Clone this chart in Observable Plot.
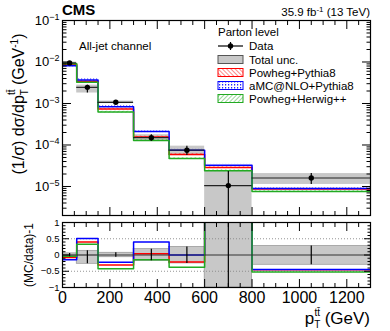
<!DOCTYPE html>
<html><head><meta charset="utf-8">
<script src="https://cdn.jsdelivr.net/npm/d3@7"></script>
<script src="https://cdn.jsdelivr.net/npm/@observablehq/plot@0.6"></script>
<style>
body{margin:0;background:#fff;font-family:"Liberation Sans",Arial,sans-serif;}
#wrap{position:relative;width:390px;height:331px;overflow:hidden;background:#fff;}
#wrap > svg{position:absolute;left:0;}
</style></head><body>
<svg width="0" height="0" style="position:absolute">
<defs>
<pattern id="hatchRed" patternUnits="userSpaceOnUse" width="3" height="3" patternTransform="rotate(-45)"><line x1="0" y1="0" x2="0" y2="3" stroke="#ff0000" stroke-width="0.9"/></pattern>
<pattern id="hatchGreen" patternUnits="userSpaceOnUse" width="3" height="3" patternTransform="rotate(45)"><line x1="0" y1="0" x2="0" y2="3" stroke="#22aa22" stroke-width="0.9"/></pattern>
<pattern id="hatchBlue" patternUnits="userSpaceOnUse" width="3" height="3"><rect x="0" y="0" width="1.2" height="1.5" fill="#2222ff"/></pattern>
</defs>
</svg>
<div id="wrap"></div>
<script>
// ---- data ----
const binEdges = [0, 60, 150, 300, 450, 600, 800, 1300];
const dataX = [30, 105, 225, 375, 525, 700, 1050];
const dataY = [9.5e-3, 2.45e-3, 1.07e-3, 1.5e-4, 7.5e-5, 1.05e-5, 1.6e-5];
const totUncLow = [0.95, 0.73, 0.93, 0.82, 0.74, 0.0, 0.70];
const totUncHigh = [1.05, 1.13, 1.07, 1.18, 1.25, 2.2, 1.28];
const powhegPythia8 = [8.8e-3, 3.43e-3, 7.4e-4, 1.56e-4, 5.9e-5, 2.85e-5, 8.7e-6];
const amcPythia8 = [8.1e-3, 3.7e-3, 8.3e-4, 2.1e-4, 7.5e-5, 3.25e-5, 8.9e-6];
const powhegHerwig = [9.1e-3, 3.26e-3, 6.2e-4, 1.28e-4, 4.7e-5, 2.4e-5, 7.6e-6];
const decadeTicks = [1e-5, 1e-4, 1e-3, 1e-2, 1e-1];
const xMajorTicks = [0, 200, 400, 600, 800, 1000, 1200];
const ratioTicks = [-1, -0.5, 0, 0.5, 1];

const RED = "#ff0000", BLUE = "#0000ff", GREEN = "#22aa22", GREY = "#c8c8c8";

const bins = binEdges.slice(0, -1).map((x1, i) => ({
  x1, x2: binEdges[i + 1], xc: dataX[i], data: dataY[i],
  lo: Math.max(dataY[i] * totUncLow[i], 1e-9), hi: dataY[i] * totUncHigh[i],
  rlo: totUncLow[i] - 1, rhi: totUncHigh[i] - 1,
  pp: powhegPythia8[i], amc: amcPythia8[i], ph: powhegHerwig[i]
}));
const steps = binEdges.map((x, i) => {
  const j = Math.min(i, dataY.length - 1);
  return {x, pp: powhegPythia8[j], amc: amcPythia8[j], ph: powhegHerwig[j],
    rpp: powhegPythia8[j] / dataY[j] - 1, ramc: amcPythia8[j] / dataY[j] - 1, rph: powhegHerwig[j] / dataY[j] - 1};
});

const logMinor = [];
for (const d of [1e-6, 1e-5, 1e-4, 1e-3, 1e-2]) for (let m = 2; m <= 9; m++) { const v = d * m; if (v >= 2e-6 && v <= 0.1) logMinor.push(v); }
const xMinor = d3.range(0, 1301, 50).filter(v => v % 200 !== 0);
const rMinor = d3.range(-10, 11).map(v => v / 10).filter(v => Math.abs(v * 2 - Math.round(v * 2)) > 1e-6);

const none = () => "";
function frameAxes(ySpec, yMinorTicks, yMajorLen, yFormat, yFont) {
  return [
    Plot.axisY({anchor: "left", ticks: ySpec, tickSize: -yMajorLen, tickPadding: yMajorLen + 3, tickFormat: yFormat, label: null, fontSize: yFont}),
    Plot.axisY({anchor: "left", ticks: yMinorTicks, tickSize: -yMajorLen / 2, tickFormat: none, label: null}),
    Plot.axisY({anchor: "right", ticks: ySpec, tickSize: -yMajorLen, tickFormat: none, label: null}),
    Plot.axisY({anchor: "right", ticks: yMinorTicks, tickSize: -yMajorLen / 2, tickFormat: none, label: null}),
    Plot.axisX({anchor: "top", ticks: xMajorTicks, tickSize: -8, tickFormat: none, label: null}),
    Plot.axisX({anchor: "top", ticks: xMinor, tickSize: -4, tickFormat: none, label: null})
  ];
}

const topPlot = Plot.plot({
  width: 390, height: 222, marginLeft: 62, marginRight: 20, marginTop: 20, marginBottom: 7,
  style: {fontFamily: "Liberation Sans, Arial, sans-serif", fontSize: "13px", color: "black", background: "transparent"},
  x: {domain: [0, 1300]},
  y: {type: "log", domain: [2e-6, 0.1]},
  marks: [
    Plot.rect(bins, {x1: "x1", x2: "x2", y1: "lo", y2: "hi", fill: GREY, clip: true}),
    Plot.rect(bins, {x1: "x1", x2: "x2", y1: d => d.pp * 0.95, y2: d => d.pp * 1.05, fill: "url(#hatchRed)", clip: true}),
    Plot.rect(bins, {x1: "x1", x2: "x2", y1: d => d.amc * 0.95, y2: d => d.amc * 1.05, fill: "url(#hatchBlue)", clip: true}),
    Plot.rect(bins, {x1: "x1", x2: "x2", y1: d => d.ph * 0.95, y2: d => d.ph * 1.05, fill: "url(#hatchGreen)", clip: true}),
    Plot.line(steps, {x: "x", y: "pp", curve: "step-after", stroke: RED, strokeWidth: 1.5, clip: true}),
    Plot.line(steps, {x: "x", y: "amc", curve: "step-after", stroke: BLUE, strokeWidth: 1.5, clip: true}),
    Plot.line(steps, {x: "x", y: "ph", curve: "step-after", stroke: GREEN, strokeWidth: 1.5, clip: true}),
    Plot.ruleY(bins, {x1: "x1", x2: "x2", y: "data", stroke: "#222", strokeWidth: 1.2}),
    Plot.ruleX(bins, {x: "xc", y1: "lo", y2: "hi", stroke: "black", strokeWidth: 1.2, clip: true}),
    Plot.dot(bins, {x: "xc", y: "data", r: 2.7, fill: "black"}),
    ...frameAxes(decadeTicks, logMinor, 9, d => "10^" + Math.round(Math.log10(d)), 13),
    Plot.axisX({anchor: "bottom", ticks: xMajorTicks, tickSize: -8, tickFormat: none, label: null}),
    Plot.axisX({anchor: "bottom", ticks: xMinor, tickSize: -4, tickFormat: none, label: null}),
    Plot.frame({stroke: "black", strokeWidth: 1.2})
  ]
});

const botPlot = Plot.plot({
  width: 390, height: 116, marginLeft: 62, marginRight: 20, marginTop: 7, marginBottom: 44,
  style: {fontFamily: "Liberation Sans, Arial, sans-serif", fontSize: "16px", color: "black", background: "transparent"},
  x: {domain: [0, 1300]},
  y: {domain: [-1, 1]},
  marks: [
    Plot.rect(bins, {x1: "x1", x2: "x2", y1: "rlo", y2: "rhi", fill: GREY, stroke: "#888", strokeWidth: 0.6, clip: true}),
    Plot.ruleY([-0.5, 0.5], {stroke: "#888", strokeDasharray: "1,2", strokeWidth: 0.9}),
    Plot.line(steps, {x: "x", y: "rpp", curve: "step-after", stroke: RED, strokeWidth: 1.5, clip: true}),
    Plot.line(steps, {x: "x", y: "ramc", curve: "step-after", stroke: BLUE, strokeWidth: 1.5, clip: true}),
    Plot.line(steps, {x: "x", y: "rph", curve: "step-after", stroke: GREEN, strokeWidth: 1.5, clip: true}),
    Plot.ruleY(bins, {x1: "x1", x2: "x2", y: 0, stroke: "#333", strokeWidth: 1.2}),
    Plot.ruleX(bins, {x: "xc", y1: "rlo", y2: "rhi", stroke: "black", strokeWidth: 1.2, clip: true}),
    ...frameAxes(ratioTicks, rMinor, 7, d => d === 0 ? "0" : (d < 0 ? "\u2212" + Math.abs(d) : String(d)), 9.5),
    Plot.axisX({anchor: "bottom", ticks: xMajorTicks, tickSize: -8, tickPadding: 12, tickFormat: d => String(d), label: null, fontSize: 16}),
    Plot.axisX({anchor: "bottom", ticks: xMinor, tickSize: -4, tickFormat: none, label: null}),
    Plot.frame({stroke: "black", strokeWidth: 1.2})
  ]
});

const wrap = document.getElementById("wrap");
topPlot.style.top = "0px";
botPlot.style.top = "215px";
wrap.appendChild(botPlot);
wrap.appendChild(topPlot);

// superscript decade labels
d3.select(topPlot).selectAll('g[aria-label="y-axis tick label"] text').each(function() {
  const t = d3.select(this);
  const s = t.text();
  if (!s.startsWith("10^")) return;
  const e = s.slice(3).replace("-", "\u2212");
  t.text("10");
  t.append("tspan").attr("dy", "-0.55em").attr("font-size", "9px").text(e);
});

const ts = d3.select(topPlot);
const F = "Liberation Sans, Arial, sans-serif";
ts.append("text").attr("x", 62).attr("y", 15).attr("text-anchor", "start").attr("font-family", F).attr("font-weight", "bold").attr("font-size", 15).text("CMS");
const lumi = ts.append("text").attr("x", 370).attr("y", 16).attr("text-anchor", "end").attr("font-family", F).attr("font-size", 11.5);
lumi.append("tspan").text("35.9 fb");
lumi.append("tspan").attr("dy", -4).attr("font-size", 8).text("-1");
lumi.append("tspan").attr("dy", 4).text(" (13 TeV)");
ts.append("text").attr("x", 79).attr("y", 50).attr("text-anchor", "start").attr("font-family", F).attr("font-size", 11.5).text("All-jet channel");

// y title
const yt = ts.append("text").attr("transform", "translate(24,104) rotate(-90)").attr("text-anchor", "middle").attr("font-family", F).attr("font-size", 16);
yt.append("tspan").text("(1/\u03c3) d\u03c3/dp");
yt.append("tspan").attr("dy", 4).attr("font-size", 10).text("T");
yt.append("tspan").attr("dx", -6).attr("dy", -13).attr("font-size", 10).text("t\u0074\u0304");
yt.append("tspan").attr("dy", 9).text(" (GeV");
yt.append("tspan").attr("dy", -6).attr("font-size", 10).text("-1");
yt.append("tspan").attr("dy", 6).text(")");

// legend
const lg = ts.append("g").attr("font-family", F).attr("font-size", 11.5).attr("text-anchor", "start");
lg.append("text").attr("x", 218).attr("y", 36).text("Parton level");
const rows = [
  {label: "Data", y: 46, kind: "data"},
  {label: "Total unc.", y: 59.5, kind: "box", fill: GREY, stroke: "#555"},
  {label: "Powheg+Pythia8", y: 72.5, kind: "box", fill: "url(#hatchRed)", stroke: RED},
  {label: "aMC@NLO+Pythia8", y: 85.5, kind: "box", fill: "url(#hatchBlue)", stroke: BLUE},
  {label: "Powheg+Herwig++", y: 98.5, kind: "box", fill: "url(#hatchGreen)", stroke: GREEN}
];
for (const r of rows) {
  if (r.kind === "data") {
    lg.append("line").attr("x1", 218).attr("x2", 243).attr("y1", r.y).attr("y2", r.y).attr("stroke", "black").attr("stroke-width", 1.2);
    lg.append("line").attr("x1", 230.5).attr("x2", 230.5).attr("y1", r.y - 4).attr("y2", r.y + 4).attr("stroke", "black").attr("stroke-width", 1.2);
    lg.append("circle").attr("cx", 230.5).attr("cy", r.y).attr("r", 2.7).attr("fill", "black");
  } else {
    lg.append("rect").attr("x", 218).attr("y", r.y - 4).attr("width", 25).attr("height", 8).attr("fill", r.fill).attr("stroke", r.stroke).attr("stroke-width", 1);
  }
  lg.append("text").attr("x", 249).attr("y", r.y + 4).text(r.label);
}

// bottom titles
const bs = d3.select(botPlot);
bs.append("text").attr("transform", "translate(33,40) rotate(-90)").attr("text-anchor", "middle").attr("font-family", F).attr("font-size", 12).text("(MC/data)-1");
const xt = bs.append("text").attr("x", 370).attr("y", 109).attr("text-anchor", "end").attr("font-family", F).attr("font-size", 17);
xt.append("tspan").text("p");
xt.append("tspan").attr("dy", 4).attr("font-size", 10).text("T");
xt.append("tspan").attr("dx", -6).attr("dy", -12).attr("font-size", 10).text("t\u0074\u0304");
xt.append("tspan").attr("dy", 8).text(" (GeV)");
</script>
</body></html>
